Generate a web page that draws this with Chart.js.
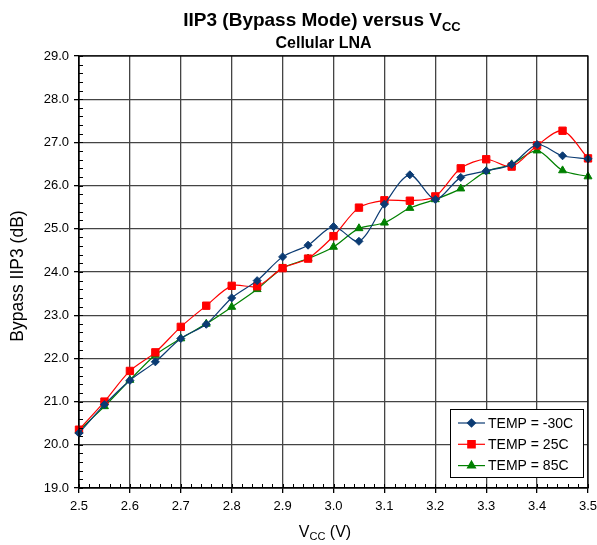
<!DOCTYPE html>
<html><head><meta charset="utf-8">
<script src="https://cdn.jsdelivr.net/npm/chart.js@4/dist/chart.umd.min.js"></script>
<style>html,body{margin:0;padding:0;background:#fff}#wrap{width:597px;height:545px}</style>
</head><body><div id="wrap"><canvas id="c" width="597" height="545"></canvas></div>
<script>
const vcc = [2.5,2.55,2.6,2.65,2.7,2.75,2.8,2.85,2.9,2.95,3.0,3.05,3.1,3.15,3.2,3.25,3.3,3.35,3.4,3.45,3.5];
const tempM30 = [20.27,20.93,21.49,21.92,22.46,22.79,23.40,23.80,24.35,24.62,25.05,24.71,25.57,26.25,25.68,26.19,26.34,26.49,26.95,26.69,26.62];
const temp25  = [20.35,21.00,21.71,22.14,22.73,23.22,23.68,23.67,24.09,24.31,24.83,25.49,25.66,25.65,25.75,26.40,26.61,26.44,26.93,27.27,26.63];
const temp85  = [20.33,20.89,21.50,22.08,22.46,22.80,23.19,23.60,24.09,24.31,24.58,25.01,25.14,25.48,25.68,25.93,26.33,26.49,26.81,26.35,26.21];
const seriesLabels = ['TEMP = -30C','TEMP = 25C','TEMP = 85C'];
const seriesColors = ['#0B3B73','#FF0000','#008000'];
const seriesStyles = ['rectRot','rect','triangle'];
const seriesRadius = [4,5.2,4.6];
const titleMain = 'IIP3 (Bypass Mode) versus V';
const titleSub = 'CC';
const subtitle = 'Cellular LNA';
const yTitle = 'Bypass IIP3 (dB)';
const xTitleParts = ['V','CC',' (V)'];
const FONT = "'Liberation Sans', Arial, sans-serif";

const seriesValues = [tempM30, temp25, temp85];

const decor = {
  id: 'decor',
  afterDraw(chart) {
    const ctx = chart.ctx;
    const xs = chart.scales.x, ys = chart.scales.y;
    const area = chart.chartArea;
    ctx.save();
    // minor ticks
    ctx.strokeStyle = '#000'; ctx.lineWidth = 1;
    ctx.beginPath();
    for (let i = 0; i <= 50; i++) {
      const v = 19 + i * 0.2;
      const y = Math.round(ys.getPixelForValue(v)) + 0.5;
      ctx.moveTo(area.left, y); ctx.lineTo(area.left + 4, y);
    }
    for (let i = 0; i <= 50; i++) {
      const v = 2.5 + i * 0.02;
      const x = Math.round(xs.getPixelForValue(v)) + 0.5;
      ctx.moveTo(x, area.bottom); ctx.lineTo(x, area.bottom - 4);
    }
    ctx.stroke();
    // frame
    ctx.strokeStyle = '#000'; ctx.lineWidth = 1.2;
    ctx.strokeRect(area.left, area.top, area.right - area.left, area.bottom - area.top);

    ctx.fillStyle = '#000';
    ctx.textBaseline = 'alphabetic';
    // title
    ctx.font = 'bold 19px ' + FONT;
    const w1 = ctx.measureText(titleMain).width;
    ctx.font = 'bold 13px ' + FONT;
    const w2 = ctx.measureText(titleSub).width;
    let tx = 322 - (w1 + w2) / 2;
    ctx.font = 'bold 19px ' + FONT;
    ctx.textAlign = 'left';
    ctx.fillText(titleMain, tx, 26);
    ctx.font = 'bold 13px ' + FONT;
    ctx.fillText(titleSub, tx + w1, 31);
    // subtitle
    ctx.font = 'bold 16px ' + FONT;
    ctx.textAlign = 'center';
    ctx.fillText(subtitle, 323.5, 47.5);
    // x title
    ctx.font = '16px ' + FONT;
    const a = ctx.measureText(xTitleParts[0]).width;
    const c = ctx.measureText(xTitleParts[2]).width;
    ctx.font = '11px ' + FONT;
    const b = ctx.measureText(xTitleParts[1]).width;
    let xx = 325 - (a + b + c) / 2;
    ctx.textAlign = 'left';
    ctx.font = '16px ' + FONT;
    ctx.fillText(xTitleParts[0], xx, 537);
    ctx.font = '11px ' + FONT;
    ctx.fillText(xTitleParts[1], xx + a, 540);
    ctx.font = '16px ' + FONT;
    ctx.fillText(xTitleParts[2], xx + a + b, 537);
    // y title
    ctx.save();
    ctx.translate(23, 276);
    ctx.rotate(-Math.PI / 2);
    ctx.textAlign = 'center';
    ctx.font = '17.5px ' + FONT;
    ctx.fillText(yTitle, 0, 0);
    ctx.restore();

    // legend
    const lx = 450, ly = 409, lw = 133, lh = 68;
    ctx.fillStyle = '#fff';
    ctx.fillRect(lx, ly, lw, lh);
    ctx.strokeStyle = '#000'; ctx.lineWidth = 1;
    ctx.strokeRect(lx + 0.5, ly + 0.5, lw, lh);
    chart.data.datasets.forEach((ds, i) => {
      const y = 423 + i * 21.3;
      ctx.strokeStyle = ds.borderColor; ctx.lineWidth = 1.2;
      ctx.beginPath(); ctx.moveTo(458, y); ctx.lineTo(485, y); ctx.stroke();
      ctx.fillStyle = ds.backgroundColor; ctx.strokeStyle = ds.borderColor;
      Chart.helpers.drawPoint(ctx, {pointStyle: ds.pointStyle, radius: ds.pointRadius, borderWidth: 1, rotation: 0}, 471.5, y);
      ctx.fillStyle = '#000';
      ctx.font = '14px ' + FONT;
      ctx.textAlign = 'left';
      ctx.textBaseline = 'middle';
      ctx.fillText(ds.label, 488, y + 1);
    });
    ctx.restore();
  }
};

const datasets = seriesValues.map((vals, i) => ({
  label: seriesLabels[i],
  data: vcc.map((x, j) => ({x: x, y: vals[j]})),
  borderColor: seriesColors[i],
  backgroundColor: seriesColors[i],
  pointStyle: seriesStyles[i],
  pointRadius: seriesRadius[i],
  pointBorderWidth: 1,
  borderWidth: 1.2,
  tension: 0.3,
  clip: false
}));

new Chart(document.getElementById('c'), {
  type: 'line',
  data: {datasets: datasets},
  options: {
    responsive: false, animation: false, devicePixelRatio: 1,
    layout: {padding: {left: 0, right: 0, top: 56, bottom: 0}},
    plugins: {legend: {display: false}, title: {display: false}, tooltip: {enabled: false}},
    scales: {
      x: {
        type: 'linear', min: 2.5, max: 3.5,
        ticks: {stepSize: 0.1, callback: v => v.toFixed(1), font: {size: 13, family: FONT}, color: '#000', padding: 6, maxRotation: 0, autoSkip: false},
        grid: {color: '#444', lineWidth: 1.3, tickLength: 5, tickColor: '#000'},
        border: {color: '#000', width: 1.2},
        afterFit(s) { s.height = 57; s.paddingRight = 9; s.paddingLeft = 0; }
      },
      y: {
        min: 19, max: 29,
        ticks: {stepSize: 1, callback: v => v.toFixed(1), font: {size: 13, family: FONT}, color: '#000', padding: 5},
        grid: {color: '#444', lineWidth: 1.3, tickLength: 5, tickColor: '#000'},
        border: {color: '#000', width: 1.2},
        afterFit(s) { s.width = 79; s.paddingTop = 0; s.paddingBottom = 0; }
      }
    }
  },
  plugins: [decor]
});
</script></body></html>
